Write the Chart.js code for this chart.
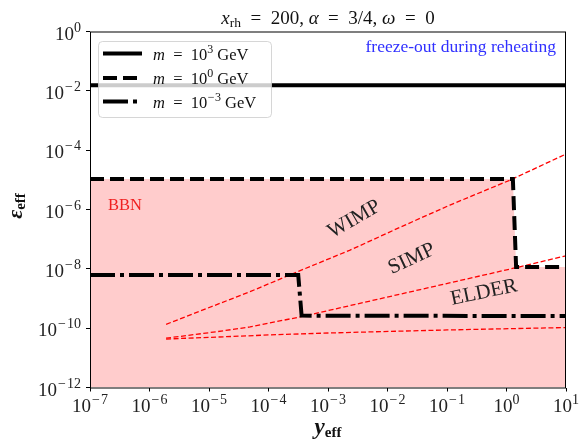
<!DOCTYPE html>
<html>
<head>
<meta charset="utf-8">
<script src="https://cdn.jsdelivr.net/npm/chart.js@4.4.0/dist/chart.umd.min.js"></script>
<style>
  html, body { margin: 0; padding: 0; background: #fff; }
  #wrap { width: 579px; height: 443px; }
</style>
</head>
<body>
<div id="wrap"><canvas id="myChart" width="579" height="443"></canvas></div>
<script>
// tick exponents (axis labels are 10^e)
const xTickExps = [-7, -6, -5, -4, -3, -2, -1, 0, 1];
const yTickExps = [0, -2, -4, -6, -8, -10, -12];

// black boundaries for the three masses
const heavyX = [1e-7, 10];
const heavyY = [0.0155, 0.0155];
const midX = [1e-7, 1.28, 1.45, 10];
const midY = [1.07e-5, 1.07e-5, 1.15e-8, 1.15e-8];
const lightX = [1e-7, 3.16e-4, 3.6e-4, 10];
const lightY = [6.2e-9, 6.2e-9, 2.65e-10, 2.55e-10];

// red dashed regime boundaries
const wimpX = [1.9e-6, 4.9e-5, 3.4e-4, 2.35e-3, 1.62e-2, 0.112, 1.15, 10];
const wimpY = [1.35e-10, 1.7e-9, 8.7e-9, 4.27e-8, 2.51e-7, 1.41e-6, 9.8e-6, 7.4e-5];
const simpX = [1.9e-6, 1.35e-5, 4.9e-5, 3.4e-4, 7.4e-4, 3.55e-2, 0.145, 1.38, 10];
const simpY = [4.6e-11, 7.6e-11, 1.1e-10, 2.4e-10, 3.4e-10, 2.0e-9, 3.8e-9, 1.07e-8, 2.75e-8];
const elderX = [1.9e-6, 1.35e-5, 1e-4, 1.07e-3, 0.1, 10];
const elderY = [4.3e-11, 5.0e-11, 5.9e-11, 6.9e-11, 8.7e-11, 1.05e-10];

const legendExps = [3, 0, -3];

const pts = (xs, ys) => xs.map((x, i) => ({ x: x, y: ys[i] }));
const SERIF = '"Liberation Serif", "DejaVu Serif", serif';
const EQ = '\u2002=\u2002';

function drawParts(ctx, parts, x, y, align) {
  let total = 0;
  parts.forEach(p => { ctx.font = p.f; p.w = ctx.measureText(p.t).width + (p.pad || 0); total += p.w; });
  let cx = align === 'center' ? x - total / 2 : align === 'right' ? x - total : x;
  ctx.textAlign = 'left';
  ctx.textBaseline = 'alphabetic';
  parts.forEach(p => { ctx.font = p.f; ctx.fillText(p.t, cx + (p.pad || 0) / 2, y + (p.dy || 0)); cx += p.w; });
}

// "10" with a raised exponent
function powParts(e, big, small, rise) {
  const out = [{ t: '10', f: big + 'px ' + SERIF }];
  if (e < 0) out.push({ t: '\u2212', f: small + 'px ' + SERIF, dy: -rise, pad: 2 });
  out.push({ t: String(Math.abs(e)), f: small + 'px ' + SERIF, dy: -rise });
  return out;
}

const decor = {
  id: 'decor',
  afterDatasetsDraw(chart) {
    const ctx = chart.ctx, a = chart.chartArea;
    const xs = chart.scales.x, ys = chart.scales.y;
    ctx.save();
    // frame
    ctx.strokeStyle = '#000';
    ctx.lineWidth = 1;
    ctx.strokeRect(a.left + 0.5, a.top + 0.5, a.right - a.left - 1, a.bottom - a.top);

    ctx.fillStyle = '#222';
    // tick labels
    xTickExps.forEach(e => {
      const px = xs.getPixelForValue(Math.pow(10, e));
      drawParts(ctx, powParts(e, 19, 14, 8), px, 411.5, 'center');
    });
    yTickExps.forEach(e => {
      const py = ys.getPixelForValue(Math.pow(10, e));
      drawParts(ctx, powParts(e, 19, 14, 8), 81, py + 8, 'right');
    });

    // title
    ctx.fillStyle = '#111';
    drawParts(ctx, [
      { t: 'x', f: 'italic 19px ' + SERIF },
      { t: 'rh', f: '13.5px ' + SERIF, dy: 3 },
      { t: EQ + '200, ', f: '19px ' + SERIF },
      { t: '\u03b1', f: 'italic 19px ' + SERIF },
      { t: EQ + '3/4, ', f: '19px ' + SERIF },
      { t: '\u03c9', f: 'italic 19px ' + SERIF },
      { t: EQ + '0', f: '19px ' + SERIF }
    ], 328, 24, 'center');

    // axis titles
    drawParts(ctx, [
      { t: 'y', f: 'italic bold 23px ' + SERIF },
      { t: 'eff', f: 'bold 15px ' + SERIF, dy: 3 }
    ], 328, 434, 'center');
    ctx.save();
    ctx.translate(22, 206);
    ctx.rotate(-Math.PI / 2);
    drawParts(ctx, [
      { t: '\u03b5', f: 'italic bold 22px ' + SERIF },
      { t: 'eff', f: 'bold 15px ' + SERIF, dy: 3 }
    ], 0, 0, 'center');
    ctx.restore();

    // annotations
    ctx.fillStyle = '#3030ff';
    drawParts(ctx, [{ t: 'freeze-out during reheating', f: '17.5px ' + SERIF }], 556, 52, 'right');
    ctx.fillStyle = '#f02020';
    drawParts(ctx, [{ t: 'BBN', f: '16.5px ' + SERIF }], 108, 210, 'left');
    ctx.fillStyle = '#222';
    [['WIMP', 357, 224, 30], ['SIMP', 414, 264, 25], ['ELDER', 485, 298, 12]].forEach(l => {
      ctx.save();
      ctx.translate(l[1], l[2]);
      ctx.rotate(-l[3] * Math.PI / 180);
      drawParts(ctx, [{ t: l[0], f: '21px ' + SERIF }], 0, 0, 'center');
      ctx.restore();
    });

    // legend
    const lx = 98, ly = 41, lw = 173, lh = 76;
    ctx.beginPath();
    ctx.roundRect(lx + 0.5, ly + 0.5, lw, lh, 4);
    ctx.fillStyle = 'rgba(255,255,255,0.8)';
    ctx.fill();
    ctx.strokeStyle = 'rgba(204,204,204,0.8)';
    ctx.lineWidth = 1;
    ctx.stroke();
    [0, 1, 2].forEach(i => {
      const ds = chart.data.datasets[i];
      const y = [53.5, 78, 101.5][i];
      ctx.beginPath();
      ctx.setLineDash(ds.borderDash || []);
      ctx.lineWidth = ds.borderWidth;
      ctx.strokeStyle = '#000';
      ctx.moveTo(103, y);
      ctx.lineTo(142, y);
      ctx.stroke();
      ctx.setLineDash([]);
      ctx.fillStyle = '#111';
      const e = legendExps[i];
      drawParts(ctx, [
        { t: 'm', f: 'italic 16.5px ' + SERIF },
        { t: EQ + '10', f: '16.5px ' + SERIF },
        ...(e < 0 ? [{ t: '\u2212', f: '12px ' + SERIF, dy: -7, pad: 1 }] : []),
        { t: String(Math.abs(e)), f: '12px ' + SERIF, dy: -7 },
        { t: ' GeV', f: '16.5px ' + SERIF }
      ], 153, y + 6, 'left');
    });
    ctx.restore();
  }
};

const lineDs = (label, data, color, width, dash) => ({
  label: label, data: data, showLine: true, borderColor: color, borderWidth: width,
  borderDash: dash, pointRadius: 0, fill: false, borderCapStyle: 'butt', tension: 0
});

const data = {
  datasets: [
    lineDs('m = 10^3 GeV', pts(heavyX, heavyY), '#000', 4, []),
    lineDs('m = 10^0 GeV', pts(midX, midY), '#000', 4, [14, 6]),
    lineDs('m = 10^-3 GeV', pts(lightX, lightY), '#000', 4, [25, 5, 4, 5]),
    lineDs('WIMP', pts(wimpX, wimpY), '#ff0000', 1.3, [5, 2.5]),
    lineDs('SIMP', pts(simpX, simpY), '#ff0000', 1.3, [5, 2.5]),
    lineDs('ELDER', pts(elderX, elderY), '#ff0000', 1.3, [5, 2.5]),
    {
      label: 'BBN', data: pts(midX, midY), showLine: true, borderWidth: 0,
      pointRadius: 0, fill: 'start', backgroundColor: 'rgba(255,0,0,0.2)', tension: 0
    }
  ]
};

const config = {
  type: 'scatter',
  data: data,
  options: {
    responsive: false,
    animation: false,
    events: [],
    layout: { padding: { top: 31.5, right: 13, left: 0, bottom: 0 } },
    plugins: { legend: { display: false }, tooltip: { enabled: false } },
    scales: {
      x: {
        type: 'logarithmic', min: 1e-7, max: 10,
        afterBuildTicks: s => { s.ticks = xTickExps.map(e => ({ value: Math.pow(10, e) })); },
        afterFit: s => { s.height = 55.5; },
        ticks: { display: false },
        grid: { drawOnChartArea: false, drawTicks: true, tickLength: 4, color: '#000', lineWidth: 1 },
        border: { display: false }
      },
      y: {
        type: 'logarithmic', min: 1e-12, max: 1,
        afterBuildTicks: s => { s.ticks = yTickExps.map(e => ({ value: Math.pow(10, e) })); },
        afterFit: s => { s.width = 90; },
        ticks: { display: false },
        grid: { drawOnChartArea: false, drawTicks: true, tickLength: 4, color: '#000', lineWidth: 1 },
        border: { display: false }
      }
    }
  },
  plugins: [decor]
};

const ctx = document.getElementById('myChart').getContext('2d');
const myChart = new Chart(ctx, config);
</script>
</body>
</html>
